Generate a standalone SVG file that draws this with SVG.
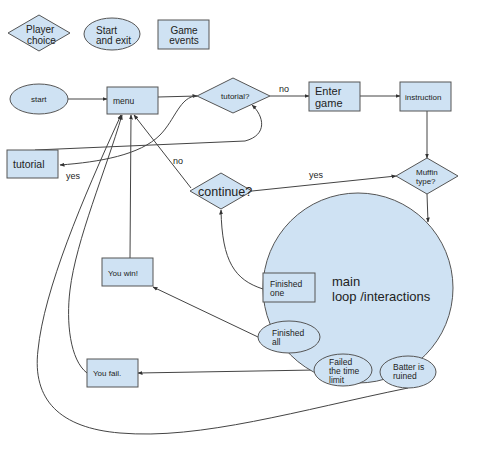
<svg xmlns="http://www.w3.org/2000/svg" width="500" height="451" viewBox="0 0 500 451">
<defs>
<marker id="ah" viewBox="0 0 10 10" refX="9" refY="5" markerWidth="5" markerHeight="5" orient="auto" markerUnits="userSpaceOnUse">
<path d="M0,1 L10,5 L0,9 z" fill="#333"/>
</marker>
</defs>
<style>
.n{fill:#cfe2f3;stroke:#555;stroke-width:1}
.c{fill:none;stroke:#444;stroke-width:1;marker-end:url(#ah)}
text{font-family:"Liberation Sans",Arial,sans-serif;fill:#222;dominant-baseline:central}
.l{font-size:9px}
</style>
<rect width="500" height="451" fill="#fff"/>
<g id="legend-choice"><polygon class="n" points="8,33 39,15 70,33 39,51"/><text x="26" y="29" font-size="10">Player</text><text x="27" y="40" font-size="10">choice</text></g>
<g id="legend-start"><ellipse class="n" cx="112" cy="34" rx="28" ry="16"/><text x="96" y="30" font-size="10">Start</text><text x="96" y="40" font-size="10">and exit</text></g>
<g id="legend-events"><rect class="n" x="158" y="20" width="51" height="29"/><text x="184" y="30" font-size="10" text-anchor="middle">Game</text><text x="184" y="40" font-size="10" text-anchor="middle">events</text></g>

<g id="connectors">
<path class="c" d="M68,99 L107,99"/>
<path class="c" d="M158,97 L197,96"/>
<path class="c" d="M197,96 C180,96 175,120 160,135 C140,155 100,162 60,165"/>
<path class="c" d="M35,150 L245,141 C268,135 264,116 252,105"/>
<path class="c" d="M270,96 L309,96"/>
<path class="c" d="M360,96 L400,96"/>
<path class="c" d="M427,111 L427,158"/>
<path class="c" d="M427,194 L428,222"/>
<path class="c" d="M252,191 L396,176"/>
<path class="c" d="M191,188 L134,115"/>
<path class="c" d="M263,289 C235,280 222,262 221,210"/>
<path class="c" d="M258,337 L153,287"/>
<path class="c" d="M130,258 L131,115"/>
<path class="c" d="M315,370 L138,373"/>
<path class="c" d="M87,373 C70,360 66,322 70,290 C76,240 106,170 122,115"/>
<path class="c" d="M408,388 C300,410 200,440 120,433 C60,428 32,400 38,350 C44,290 82,200 121,115"/>
</g>

<g id="start"><ellipse class="n" cx="39" cy="99" rx="29" ry="15"/><text x="31" y="99" font-size="8">start</text></g>
<g id="menu"><rect class="n" x="107" y="87" width="51" height="27"/><text x="113" y="101" font-size="8.5">menu</text></g>
<g id="tutorialq"><polygon class="n" points="197,96 233,78 270,96 233,113"/><text x="221" y="96" font-size="8">tutorial?</text></g>
<g id="enter"><rect class="n" x="309" y="82" width="51" height="29"/><text x="315" y="91" font-size="11">Enter</text><text x="315" y="103" font-size="11">game</text></g>
<g id="instruction"><rect class="n" x="400" y="82" width="51" height="29"/><text x="405" y="97" font-size="8">instruction</text></g>
<g id="tutorial"><rect class="n" x="7" y="150" width="51" height="28"/><text x="13" y="164" font-size="10.5">tutorial</text></g>
<g id="muffin"><polygon class="n" points="396,176 427,158 458,176 427,194"/><text x="416" y="172" font-size="8">Muffin</text><text x="416" y="181" font-size="8">type?</text></g>
<g id="main"><circle class="n" cx="358" cy="288" r="95"/><text x="332" y="281" font-size="13">main</text><text x="332" y="296" font-size="13">loop /interactions</text></g>
<g id="continue"><polygon class="n" points="190,191 221,173 252,191 221,209"/><text x="198" y="192" font-size="12.5">continue?</text></g>
<g id="finished-one"><rect class="n" x="263" y="273" width="52" height="29"/><text x="270" y="284" font-size="8.5">Finished</text><text x="270" y="293" font-size="8.5">one</text></g>
<g id="finished-all"><ellipse class="n" cx="289" cy="337" rx="31" ry="16"/><text x="272" y="333" font-size="8.5">Finished</text><text x="272" y="342" font-size="8.5">all</text></g>
<g id="failed"><ellipse class="n" cx="343" cy="370" rx="29" ry="16"/><text x="329" y="362" font-size="8.5">Failed</text><text x="329" y="371" font-size="8.5">the time</text><text x="329" y="380" font-size="8.5">limit</text></g>
<g id="batter"><ellipse class="n" cx="408" cy="372" rx="28" ry="16"/><text x="393" y="367" font-size="8.5">Batter is</text><text x="393" y="376" font-size="8.5">ruined</text></g>
<g id="win"><rect class="n" x="102" y="258" width="51" height="28"/><text x="108" y="273" font-size="8">You win!</text></g>
<g id="fail"><rect class="n" x="87" y="359" width="51" height="28"/><text x="93" y="373" font-size="8">You fail.</text></g>

<g id="labels">
<text class="l" x="66" y="176">yes</text>
<text class="l" x="279" y="89">no</text>
<text class="l" x="173" y="161">no</text>
<text class="l" x="309" y="175">yes</text>
</g>
</svg>
